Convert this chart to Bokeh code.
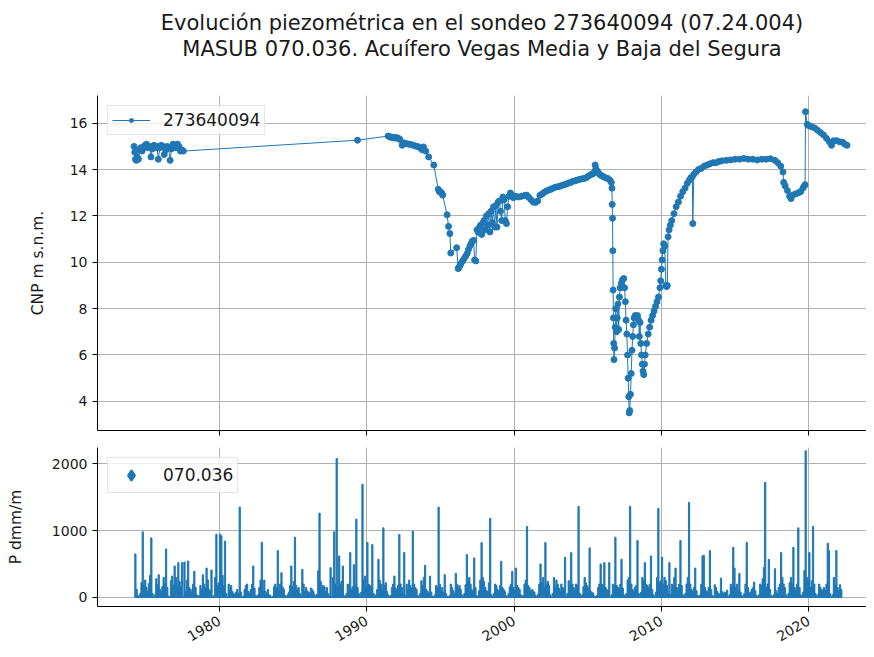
import math
from bokeh.plotting import figure
from bokeh.models import (Range1d, FixedTicker, Legend, LegendItem, Title, ColumnDataSource,
                          CustomJSTickFormatter)
from bokeh.layouts import column
from bokeh.embed import file_html
from bokeh.resources import INLINE

FONT = "DejaVu Sans"
BLUE = "#1f77b4"
TXT = "#1a1a1a"

title_line1 = "Evolución piezométrica en el sondeo 273640094 (07.24.004)"
title_line2 = "MASUB 070.036. Acuífero Vegas Media y Baja del Segura"
series_name = "273640094"
precip_name = "070.036"
top_ylabel = "CNP m s.n.m."
bottom_ylabel = "P dmm/m"
x_ticks = [1980, 1990, 2000, 2010, 2020]
top_y_ticks = [4, 6, 8, 10, 12, 14, 16]
bottom_y_ticks = [0, 1000, 2000]

cnp_year = [
    1974.20, 1974.25, 1974.30, 1974.35, 1974.42, 1974.50, 1974.58, 1974.66, 1974.75, 1974.85,
    1974.95, 1975.05, 1975.15, 1975.25, 1975.35, 1975.45, 1975.55, 1975.65, 1975.75, 1975.85,
    1975.95, 1976.05, 1976.15, 1976.25, 1976.35, 1976.45, 1976.55, 1976.65, 1976.75, 1976.85,
    1976.95, 1977.05, 1977.15, 1977.25, 1977.35, 1977.45, 1977.55,
    1989.37,
    1991.45, 1991.55, 1991.65, 1991.75, 1991.85, 1991.95, 1992.05, 1992.15, 1992.25, 1992.40,
    1992.55, 1992.70, 1992.85, 1993.00, 1993.15, 1993.30, 1993.45, 1993.60, 1993.76, 1993.85,
    1994.00, 1994.20, 1994.55, 1994.85, 1994.92, 1995.00, 1995.10, 1995.15, 1995.45, 1995.55,
    1995.64, 1995.70, 1996.10, 1996.20, 1996.25, 1996.32, 1996.40, 1996.50, 1996.60, 1996.70,
    1996.82, 1996.90, 1997.00, 1997.08, 1997.15, 1997.25, 1997.32, 1997.40, 1997.48, 1997.56,
    1997.64, 1997.72, 1997.80, 1997.88, 1997.96, 1998.04, 1998.12, 1998.20, 1998.28, 1998.36,
    1998.44, 1998.52, 1998.60, 1998.68, 1998.76, 1998.84, 1998.92, 1999.00, 1999.08, 1999.16,
    1999.24, 1999.32, 1999.40, 1999.48, 1999.56, 1999.65, 1999.75, 1999.85, 1999.95, 2000.10,
    2000.30, 2000.50, 2000.70, 2000.85, 2001.00, 2001.15, 2001.30, 2001.45, 2001.60, 2001.75,
    2001.90, 2002.05, 2002.20, 2002.35, 2002.50, 2002.65, 2002.80, 2002.95, 2003.10, 2003.25,
    2003.40, 2003.55, 2003.70, 2003.85, 2004.00, 2004.15, 2004.30, 2004.45, 2004.60, 2004.75,
    2004.90, 2005.05, 2005.20, 2005.35, 2005.45, 2005.50, 2005.55, 2005.62, 2005.70, 2005.80,
    2005.90, 2006.05, 2006.20, 2006.35, 2006.50, 2006.60,
    2006.64, 2006.66, 2006.68, 2006.70, 2006.72, 2006.74, 2006.76, 2006.78, 2006.82, 2006.86,
    2006.90, 2006.95, 2007.00, 2007.05, 2007.10, 2007.15, 2007.20, 2007.28, 2007.36, 2007.44,
    2007.50, 2007.55, 2007.60, 2007.65, 2007.70, 2007.74, 2007.78, 2007.81, 2007.85, 2007.90,
    2007.95, 2008.00, 2008.05, 2008.10, 2008.15, 2008.22, 2008.30, 2008.38, 2008.45, 2008.50,
    2008.55, 2008.60, 2008.65, 2008.70, 2008.75, 2008.80, 2008.85, 2008.90, 2009.00, 2009.10,
    2009.20, 2009.30, 2009.40, 2009.50, 2009.60, 2009.70, 2009.80, 2009.90, 2009.95, 2010.00,
    2010.05, 2010.10, 2010.15, 2010.22, 2010.30, 2010.35, 2010.40, 2010.45, 2010.52, 2010.60,
    2010.70, 2010.85, 2011.00, 2011.15, 2011.30, 2011.45, 2011.60, 2011.75, 2011.90, 2012.00,
    2012.10, 2012.13, 2012.20, 2012.35, 2012.50, 2012.70, 2012.90, 2013.10, 2013.30, 2013.50,
    2013.70, 2013.90, 2014.10, 2014.40, 2014.70, 2015.00, 2015.30, 2015.60, 2015.90, 2016.20,
    2016.50, 2016.80, 2017.10, 2017.40, 2017.70, 2017.90, 2018.10, 2018.25, 2018.30, 2018.40,
    2018.55, 2018.70, 2018.80, 2018.90, 2019.10, 2019.30, 2019.45, 2019.60, 2019.70, 2019.75,
    2019.78, 2019.90, 2020.00, 2020.20, 2020.40, 2020.60, 2020.80, 2021.00, 2021.20, 2021.40,
    2021.55, 2021.70, 2021.90, 2022.10, 2022.30, 2022.45, 2022.60,
]
cnp_value = [
    15.00, 14.75, 14.45, 14.40, 14.55, 14.45, 14.85, 14.95, 14.80, 14.95,
    15.05, 15.10, 14.95, 15.00, 14.55, 14.90, 15.05, 14.95, 15.00, 14.45,
    14.95, 15.05, 15.00, 14.65, 14.85, 15.00, 14.95, 14.40, 14.90, 15.10,
    15.05, 14.95, 15.10, 15.00, 14.80, 14.85, 14.80,
    15.27,
    15.45, 15.42, 15.40, 15.38, 15.40, 15.36, 15.38, 15.35, 15.30, 15.05,
    15.15, 15.12, 15.10, 15.08, 15.05, 15.02, 15.00, 14.95, 14.86, 14.98,
    14.80, 14.55, 14.20, 13.15, 13.05, 13.05, 12.97, 12.90, 12.05, 11.55,
    11.24, 10.40, 10.63, 9.73, 9.78, 9.85, 9.95, 10.05, 10.15, 10.25,
    10.38, 10.55, 10.70, 10.80, 10.90, 10.95, 10.10, 10.06, 11.40, 11.30,
    11.50, 11.60, 11.20, 11.70, 11.80, 11.40, 12.00, 11.60, 12.10, 11.31,
    12.20, 11.70, 12.39, 11.52, 12.45, 11.52, 12.60, 12.65, 12.20, 11.80,
    12.82, 12.70, 11.80, 11.67, 12.40, 12.85, 12.99, 12.90, 12.79, 12.85,
    12.82, 12.85, 12.88, 12.90, 12.80, 12.70, 12.60, 12.58, 12.65, 12.89,
    12.95, 13.02, 13.08, 13.12, 13.15, 13.20, 13.24, 13.26, 13.28, 13.32,
    13.35, 13.38, 13.42, 13.45, 13.50, 13.52, 13.55, 13.58, 13.60, 13.62,
    13.65, 13.72, 13.78, 13.82, 13.90, 14.20, 14.05, 13.95, 13.88, 13.80,
    13.75, 13.70, 13.65, 13.62, 13.55, 13.45,
    13.20, 12.50, 11.90, 10.50, 8.80, 7.60, 6.50, 5.80, 6.30, 7.20,
    8.00, 7.00, 7.60, 8.20, 7.10, 8.50, 8.90, 9.10, 9.25, 9.30,
    8.90, 8.30, 7.50, 6.90, 6.00, 5.00, 4.20, 3.50, 3.60, 4.30,
    5.20, 6.20, 6.80, 7.30, 7.60, 7.70, 7.60, 7.70, 7.50, 6.80,
    7.40, 6.50, 6.00, 5.60, 5.30, 5.15, 5.60, 6.00, 6.50, 6.90,
    7.20, 7.50, 7.70, 7.90, 8.10, 8.30, 8.50, 8.90, 9.20, 9.70,
    10.10, 10.50, 10.80, 10.70, 9.00, 8.95, 9.00, 11.10, 11.40, 11.60,
    11.80, 12.10, 12.40, 12.60, 12.85, 13.05, 13.20, 13.40, 13.55, 13.65,
    13.70, 11.67, 13.80, 13.90, 14.00, 14.05, 14.15, 14.20, 14.25, 14.30,
    14.30, 14.35, 14.38, 14.40, 14.42, 14.45, 14.45, 14.48, 14.45, 14.45,
    14.42, 14.45, 14.45, 14.47, 14.40, 14.30, 14.15, 13.90, 13.45, 13.30,
    13.10, 12.85, 12.75, 12.90, 12.95, 13.00, 13.05, 13.20, 13.30, 13.35,
    16.50, 15.95, 15.90, 15.85, 15.80, 15.70, 15.60, 15.50, 15.35, 15.20,
    15.05, 15.25, 15.25, 15.20, 15.18, 15.10, 15.05,
]

precip_first_year = 1974
N = None
precip_monthly = [
    [N, N, N, 650, 120, 30, 0, 60, 220, 980, 180, 260],      # 1974
    [150, 90, 210, 330, 890, 60, 0, 40, 280, 190, 340, 120],  # 1975
    [90, 160, 300, 200, 725, 150, 20, 10, 250, 320, 180, 470],  # 1976
    [300, 180, 520, 240, 160, 520, 10, 530, 90, 260, 545, 150],  # 1977
    [120, 80, 200, 390, 150, 40, 0, 30, 180, 120, 340, 200],  # 1978
    [150, 440, 260, 120, 90, 410, 10, 30, 300, 945, 180, 220],  # 1979
    [945, 920, 330, 180, 840, 60, 10, 200, 120, 180, 90, 60],  # 1980
    [40, 80, 120, 60, 1350, 80, 10, 20, 120, 180, 200, 90],  # 1981
    [60, 120, 200, 470, 140, 30, 10, 40, 150, 260, 825, 100],  # 1982
    [260, 90, 60, 120, 40, 30, 0, 20, 160, 200, 150, 700],  # 1983
    [100, 200, 370, 150, 120, 30, 10, 40, 80, 180, 470, 160],  # 1984
    [240, 900, 180, 120, 150, 60, 10, 420, 200, 90, 150, 100],  # 1985
    [80, 60, 140, 120, 90, 40, 10, 50, 400, 1260, 240, 120],  # 1986
    [180, 160, 90, 150, 60, 30, 445, 20, 300, 980, 200, 2075],  # 1987
    [150, 620, 200, 240, 470, 30, 10, 60, 200, 180, 670, 120],  # 1988
    [160, 490, 200, 1170, 150, 60, 20, 80, 1690, 260, 320, 150],  # 1989
    [820, 200, 180, 150, 790, 60, 10, 40, 120, 570, 260, 200],  # 1990
    [120, 1040, 180, 220, 90, 40, 10, 30, 150, 200, 320, 140],  # 1991
    [100, 180, 940, 200, 150, 60, 670, 30, 200, 120, 260, 180],  # 1992
    [140, 990, 200, 150, 120, 30, 10, 60, 250, 180, 300, 480],  # 1993
    [120, 90, 60, 320, 80, 20, 10, 40, 180, 150, 1350, 200],  # 1994
    [100, 150, 80, 340, 60, 20, 10, 30, 200, 150, 100, 60],  # 1995
    [360, 200, 150, 180, 120, 40, 10, 60, 190, 640, 240, 300],  # 1996
    [200, 120, 80, 590, 150, 30, 10, 100, 260, 820, 300, 240],  # 1997
    [150, 100, 90, 220, 1180, 40, 10, 60, 200, 180, 120, 90],  # 1998
    [180, 540, 150, 120, 90, 30, 10, 60, 160, 200, 390, 150],  # 1999
    [100, 440, 180, 150, 120, 40, 10, 30, 200, 260, 1060, 180],  # 2000
    [150, 90, 120, 100, 80, 30, 10, 50, 200, 500, 220, 300],  # 2001
    [160, 820, 200, 240, 180, 40, 10, 60, 300, 150, 260, 200],  # 2002
    [140, 90, 200, 150, 120, 600, 20, 60, 250, 180, 670, 200],  # 2003
    [150, 100, 200, 180, 1360, 60, 10, 40, 160, 300, 220, 180],  # 2004
    [140, 740, 90, 80, 60, 20, 10, 30, 150, 200, 500, 200],  # 2005
    [180, 520, 150, 120, 100, 520, 10, 40, 200, 180, 900, 180],  # 2006
    [150, 120, 200, 570, 140, 40, 10, 60, 260, 300, 1360, 200],  # 2007
    [120, 90, 150, 180, 850, 60, 20, 80, 300, 250, 520, 200],  # 2008
    [180, 150, 200, 620, 120, 40, 10, 80, 300, 1330, 220, 250],  # 2009
    [600, 200, 300, 250, 180, 60, 520, 40, 200, 150, 300, 440],  # 2010
    [150, 100, 200, 850, 180, 40, 10, 60, 200, 300, 1420, 200],  # 2011
    [120, 90, 150, 440, 100, 30, 10, 40, 200, 620, 630, 150],  # 2012
    [100, 80, 150, 700, 120, 30, 10, 190, 150, 90, 60, 50],  # 2013
    [290, 90, 60, 80, 60, 110, 10, 40, 200, 150, 750, 440],  # 2014
    [150, 200, 100, 360, 80, 30, 10, 60, 200, 820, 150, 60],  # 2015
    [80, 120, 150, 230, 100, 30, 10, 40, 200, 180, 280, 450],  # 2016
    [1720, 150, 200, 570, 120, 30, 10, 40, 430, 100, 60, 150],  # 2017
    [200, 670, 300, 200, 150, 40, 10, 60, 220, 300, 200, 750],  # 2018
    [150, 100, 200, 1040, 150, 40, 10, 80, 400, 2190, 300, 250],  # 2019
    [670, 150, 250, 1060, 200, 60, 10, 40, 200, 150, 120, 100],  # 2020
    [150, 100, 200, 810, 700, 60, 10, 40, 300, 200, 700, 150],  # 2021
    [100, 190, 120, N, N, N, N, N, N, N, N, N],  # 2022
]

# monthly bars centred in each month
p_x, p_v = [], []
for i, row in enumerate(precip_monthly):
    for m, v in enumerate(row):
        if v is not None:
            p_x.append(precip_first_year + i + (m + 0.5) / 12.0)
            p_v.append(v)

x_range = Range1d(1971.72, 2023.92)


def style(p):
    p.outline_line_color = None
    p.background_fill_color = "white"
    p.border_fill_color = "white"
    for ax in (p.xaxis[0], p.yaxis[0]):
        ax.axis_line_color = "black"
        ax.axis_line_width = 1
        ax.major_tick_line_color = "black"
        ax.major_tick_out = 5
        ax.major_tick_in = 0
        ax.minor_tick_line_color = None
        ax.major_label_text_font = FONT
        ax.major_label_text_font_size = "14px"
        ax.major_label_text_color = TXT
        ax.axis_label_text_font = FONT
        ax.axis_label_text_font_size = "15.5px"
        ax.axis_label_text_font_style = "normal"
        ax.axis_label_text_color = TXT
    p.xaxis.ticker = FixedTicker(ticks=x_ticks)
    p.xgrid.ticker = FixedTicker(ticks=x_ticks)
    for g in (p.xgrid[0], p.ygrid[0]):
        g.grid_line_color = "#b0b0b0"
        g.grid_line_width = 1


def style_legend(leg, glyph_h):
    leg.label_text_font = FONT
    leg.label_text_font_size = "17px"
    leg.label_text_color = TXT
    leg.border_line_color = "#cccccc"
    leg.background_fill_alpha = 0.8
    leg.padding = 4
    leg.margin = 10
    leg.glyph_width = 38
    leg.glyph_height = glyph_h
    leg.label_standoff = 13
    leg.label_height = 20
    leg.inactive_fill_alpha = 0


# ---------- title strip ----------
tfig = figure(width=866, height=65, x_range=x_range, output_backend="svg",
              toolbar_location=None, x_axis_location=None, y_axis_location=None,
              min_border_left=97, min_border_right=0, min_border_top=60, min_border_bottom=0)
tfig.outline_line_color = None
tfig.grid.visible = False
tfig.add_layout(Title(text=title_line2, align="center", text_font=FONT, text_font_size="21px",
                      text_font_style="normal", text_color=TXT, standoff=0), "above")
tfig.add_layout(Title(text=title_line1, align="center", text_font=FONT, text_font_size="21px",
                      text_font_style="normal", text_color=TXT, standoff=0), "above")

# ---------- top panel ----------
p1 = figure(width=866, height=382, x_range=x_range, y_range=Range1d(2.74, 17.2),
            output_backend="svg", toolbar_location=None,
            min_border_left=97, min_border_right=0, min_border_top=30, min_border_bottom=17)
style(p1)
p1.yaxis.ticker = FixedTicker(ticks=top_y_ticks)
p1.ygrid.ticker = FixedTicker(ticks=top_y_ticks)
p1.yaxis.axis_label = top_ylabel
p1.yaxis.axis_label_standoff = 20
p1.xaxis.formatter = CustomJSTickFormatter(code="return ''")
p1.xaxis.major_label_standoff = -20

src = ColumnDataSource(dict(x=cnp_year, y=cnp_value))
r_line = p1.line("x", "y", source=src, color=BLUE, line_width=1)
r_pts = p1.scatter("x", "y", source=src, size=6, color=BLUE)

leg1 = Legend(items=[LegendItem(label=series_name, renderers=[r_line, r_pts])],
              location="top_left")
style_legend(leg1, 10)
p1.add_layout(leg1)

# ---------- bottom panel ----------
p2 = figure(width=866, height=209, x_range=x_range, y_range=Range1d(-135, 2240),
            output_backend="svg", toolbar_location=None,
            min_border_left=97, min_border_right=0, min_border_top=0, min_border_bottom=50)
style(p2)
p2.yaxis.ticker = FixedTicker(ticks=bottom_y_ticks)
p2.ygrid.ticker = FixedTicker(ticks=bottom_y_ticks)
p2.yaxis.axis_label = bottom_ylabel
p2.yaxis.axis_label_standoff = 24
p2.xaxis.major_label_orientation = math.pi / 6
p2.xaxis.major_label_standoff = 8

psrc = ColumnDataSource(dict(x=p_x, top=p_v))
p2.vbar(x="x", top="top", bottom=0, width=1.0 / 12, source=psrc,
        fill_color=BLUE, line_color=BLUE, line_width=1)

# legend-only renderer: hidden in the plot, drawn only as the legend glyph
d1 = p2.scatter("x", "top", source=psrc, marker="diamond", color=BLUE, line_width=2,
                visible=False)
leg2 = Legend(items=[LegendItem(label=precip_name, renderers=[d1])], location="top_left")
style_legend(leg2, 26)
p2.add_layout(leg2)

layout = column(tfig, p1, p2, spacing=0)
open("out.html", "w").write(file_html(layout, INLINE))
